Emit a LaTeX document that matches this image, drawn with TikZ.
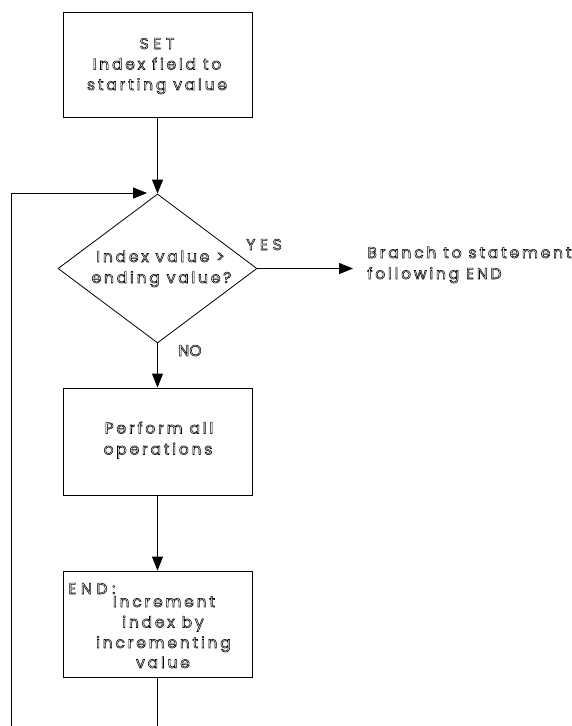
\documentclass[tikz,border=0pt]{standalone}
\usepackage{fontspec}
\usetikzlibrary{shapes.geometric,arrows.meta}
\newfontfamily\flowfont[LetterSpace=18]{Poppins}
\newcommand{\ot}[1]{\special{pdf:code 1 Tr 0.55 w}#1\special{pdf:code 0 Tr}}
\begin{document}
\begin{tikzpicture}[x=1pt,y=-1pt,
  line width=0.8pt,
  arr/.style={-{Triangle[length=14pt,width=11pt]}},
  procbox/.style={draw,rectangle,minimum width=189pt,inner sep=0pt},
  txt/.style={font=\flowfont\fontsize{15.5}{20.5}\selectfont,inner sep=0pt,anchor=base},
  ltxt/.style={font=\flowfont\fontsize{15.5}{20.5}\selectfont,inner sep=0pt,anchor=base west}]
\useasboundingbox (0,0) rectangle (572,726);
% shapes
\node[procbox,minimum height=105pt] (set) at (157.5,64.5) {};
\node[draw,diamond,minimum width=199pt,minimum height=149pt,inner sep=0pt] (dec) at (157.5,268.5) {};
\node[procbox,minimum height=107pt] (perf) at (157.5,441.5) {};
\node[procbox,minimum height=106pt] (endb) at (157.5,624) {};
% texts
\node[txt] (set1) at (157,49) {\ot{\addfontfeature{LetterSpace=30}SET}};
\node[txt] (set2) at (157,69.5) {\ot{Index field to}};
\node[txt] (set3) at (157,90) {\ot{starting value}};
\node[txt] (dec1) at (160.5,262) {\ot{Index value >}};
\node[txt] (dec2) at (161.5,283) {\ot{ending value?}};
\node[txt] (perf1) at (159,433.5) {\ot{Perform all}};
\node[txt] (perf2) at (158,454.5) {\ot{operations}};
\node[ltxt] (endlbl) at (68,594) {\ot{\addfontfeature{LetterSpace=30}END:}};
\node[txt] (end1) at (164,607) {\ot{Increment}};
\node[txt] (end2) at (163,627.5) {\ot{index by}};
\node[txt] (end3) at (163.5,648) {\ot{incrementing}};
\node[txt] (end4) at (163,668) {\ot{value}};
\node[txt] (yes) at (264,250) {\ot{\addfontfeature{LetterSpace=30}YES}};
\node[txt] (no) at (190,356) {\ot{\addfontfeature{LetterSpace=0}NO}};
\node[ltxt] (branch1) at (367,258) {\ot{Branch to statement}};
\node[ltxt] (branch2) at (367,279) {\ot{following END}};
% coordinates
\coordinate (yesend) at (353,268.5);
\coordinate (loopin) at (147,193);
\coordinate (looptop) at (11,193);
\coordinate (loopbot) at (11,726);
\coordinate (endbot) at (157.5,726);
% connectors
\draw[arr] (set.south) -- (dec.north);
\draw[arr] (dec.east) -- (yesend);
\draw[arr] (dec.south) -- (perf.north);
\draw[arr] (perf.south) -- (endb.north);
\draw (endb.south) -- (endbot);
\draw[arr] (loopbot) -- (looptop) -- (loopin);
\end{tikzpicture}
\end{document}
